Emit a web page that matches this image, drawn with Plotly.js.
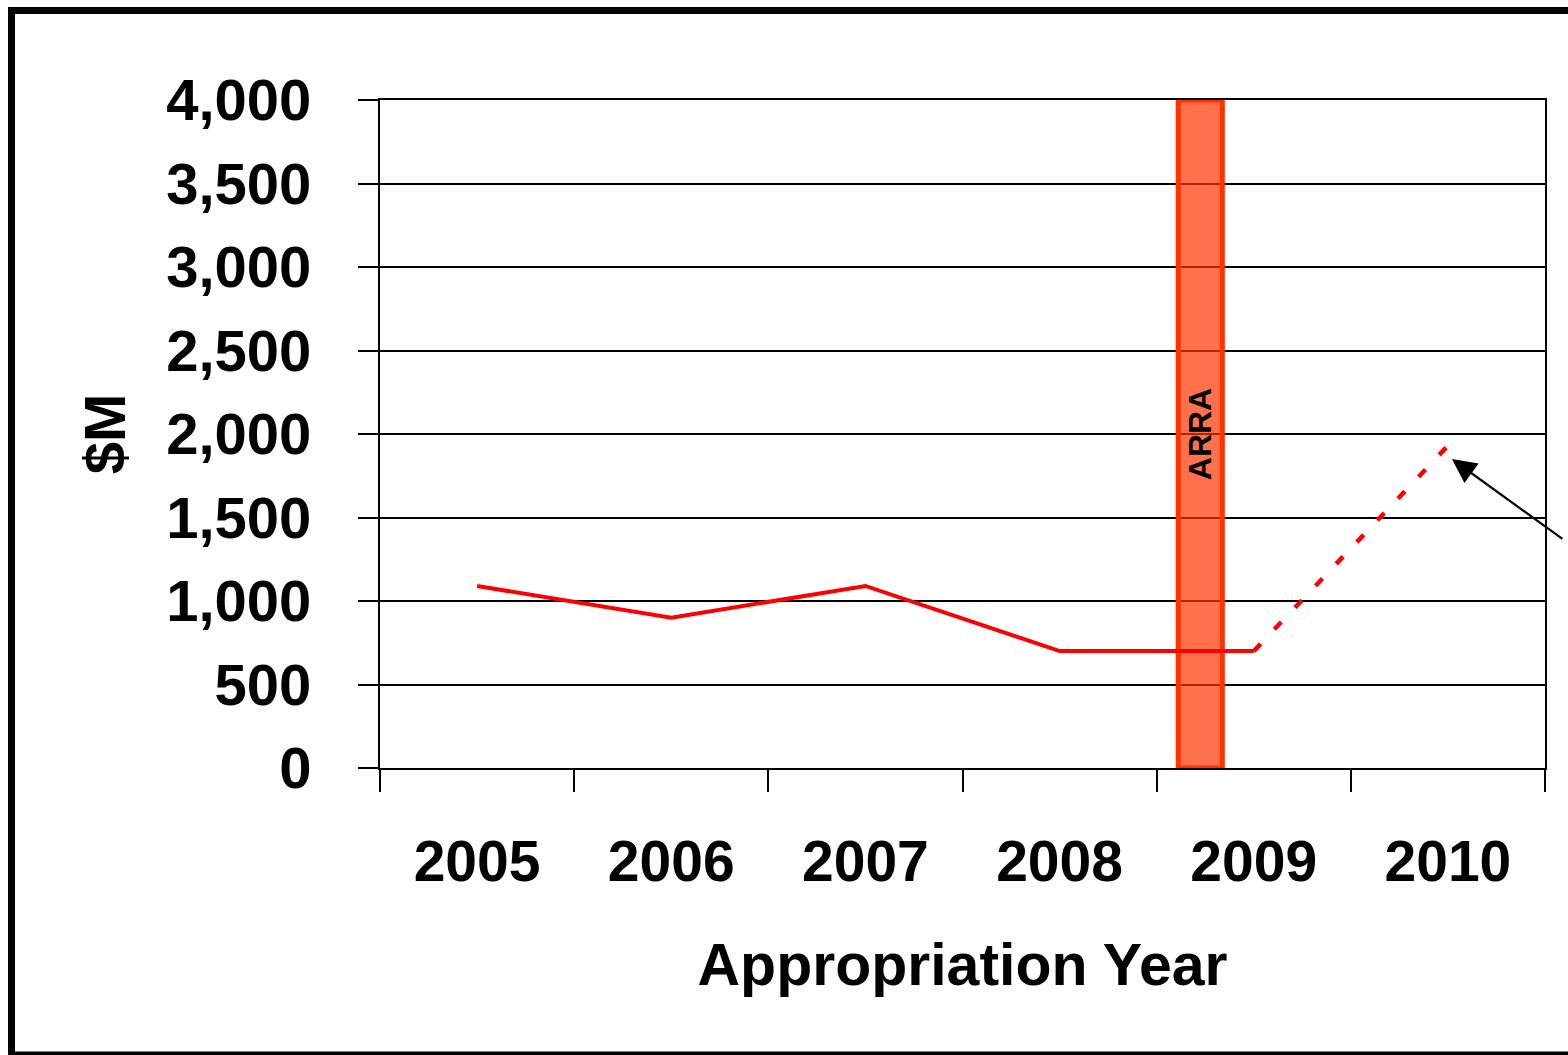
<!DOCTYPE html>
<html>
<head>
<meta charset="utf-8">
<script src="https://cdn.plot.ly/plotly-3.0.1.min.js"></script>
<style>html,body{margin:0;padding:0;background:#fff;}#chart{width:1568px;height:1055px;}</style>
</head>
<body>
<div id="chart"></div>
<script>
// Data
var years = ['2005', '2006', '2007', '2008', '2009', '2010'];
var actualYears = ['2005', '2006', '2007', '2008', '2009'];
var actualValues = [1090, 900, 1090, 700, 700];
var projectedYears = ['2009', '2010'];
var projectedValues = [700, 1930];
var arraYears = ['2009'];
var arraValues = [4000];
var arraLabel = ['ARRA'];
var yTickVals = [0, 500, 1000, 1500, 2000, 2500, 3000, 3500, 4000];
var yTickText = ['0', '500', '1,000', '1,500', '2,000', '2,500', '3,000', '3,500', '4,000'];

var FONT = 'Liberation Sans, Arial, sans-serif';

var traces = [
  {
    type: 'bar',
    x: arraYears,
    y: arraValues,
    width: [0.227],
    offset: [-0.389],
    text: arraLabel,
    textposition: 'inside',
    insidetextanchor: 'middle',
    textangle: -90,
    constraintext: 'none',
    insidetextfont: {family: FONT, size: 32, color: '#000', weight: 'bold'},
    marker: {color: 'rgba(255,51,0,0.7)', line: {color: '#FF3300', width: 5}},
    hoverinfo: 'skip',
    showlegend: false
  },
  {
    type: 'scatter',
    mode: 'lines',
    x: actualYears,
    y: actualValues,
    line: {color: '#FF0000', width: 4},
    showlegend: false
  },
  {
    type: 'scatter',
    mode: 'lines',
    x: projectedYears,
    y: projectedValues,
    line: {color: '#FF0000', width: 4.5, dash: '10px,20px'},
    showlegend: false
  }
];

var layout = {
  width: 1568,
  height: 1055,
  margin: {l: 380, r: 23, t: 100, b: 287},
  paper_bgcolor: '#ffffff',
  plot_bgcolor: '#ffffff',
  font: {family: FONT, color: '#000'},
  showlegend: false,
  xaxis: {
    type: 'category',
    categoryorder: 'array',
    categoryarray: years,
    range: [-0.5, 5.5],
    tickson: 'boundaries',
    ticks: 'outside',
    ticklen: 22,
    tickwidth: 2,
    tickcolor: '#000',
    showline: true,
    linecolor: '#000',
    linewidth: 2,
    mirror: true,
    showgrid: false,
    zeroline: false,
    tickfont: {family: FONT, size: 57, color: '#000', weight: 'bold'},
    ticklabelstandoff: 43,
    title: {text: 'Appropriation Year', font: {family: FONT, size: 59, color: '#000', weight: 'bold'}, standoff: 51},
    fixedrange: true
  },
  yaxis: {
    range: [0, 4000],
    tickvals: yTickVals,
    ticktext: yTickText,
    ticks: 'outside',
    ticklen: 20,
    tickwidth: 2,
    tickcolor: '#000',
    showline: true,
    linecolor: '#000',
    linewidth: 2,
    mirror: true,
    showgrid: true,
    gridcolor: '#000',
    gridwidth: 2,
    zeroline: false,
    tickfont: {family: FONT, size: 58, color: '#000', weight: 'bold'},
    ticklabelstandoff: 35,
    title: {text: '$M', font: {family: FONT, size: 58, color: '#000', weight: 'bold'}, standoff: 22},
    fixedrange: true
  },
  shapes: [
    {type: 'rect', xref: 'paper', yref: 'paper', x0: -0.3163, x1: 1.0258, y0: -0.4296, y1: 1.1340,
     line: {color: '#000', width: 7}, fillcolor: 'rgba(0,0,0,0)', layer: 'above'}
  ],
  annotations: [
    {xref: 'x', yref: 'y', x: 5, y: 1850, xshift: 4, showarrow: true, arrowhead: 2, arrowsize: 2.2,
     arrowwidth: 2.2, arrowcolor: '#000', ax: 112, ay: 81, text: '', standoff: 0}
  ]
};

Plotly.newPlot('chart', traces, layout, {displayModeBar: false, staticPlot: true});
</script>
</body>
</html>
